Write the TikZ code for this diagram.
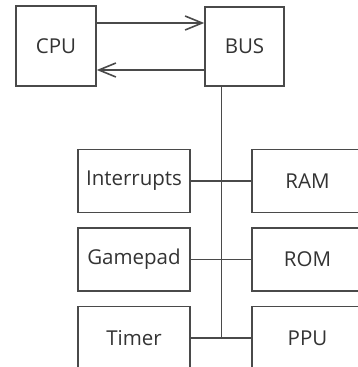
\documentclass[tikz,border=0pt]{standalone}
\usepackage{fontspec}
\setmainfont{Open Sans}
\usepackage{tikz}
\usepackage{xcolor}
\usetikzlibrary{arrows.meta}
\definecolor{linegray}{HTML}{4A4A4A}
\definecolor{textgray}{HTML}{333333}

\begin{document}
\begin{tikzpicture}[x=1pt,y=-1pt,font=\fontsize{20.5}{24}\selectfont,
  blok/.style={draw=linegray,line width=1.6pt,text=textgray,inner sep=0pt},
  wire/.style={draw=linegray,line width=1.6pt},
  arr/.style={wire,-{Straight Barb[length=17pt,width=14pt,line width=1.6pt]}}]
  \useasboundingbox (0,0) rectangle (357,367);
  \node[blok,minimum width=80pt,minimum height=80pt] (cpu) at (56,46) {CPU};
  \node[blok,minimum width=79pt,minimum height=79pt] (bus) at (244.5,46.5) {BUS};
  \draw[arr] (cpu.east |- 0,23) -- (bus.west |- 0,23);
  \draw[arr] (bus.west |- 0,70) -- (cpu.east |- 0,70);
  \foreach \l/\r/\y in {Interrupts/RAM/181,Gamepad/ROM/259.5,Timer/PPU/338}{
    \node[blok,minimum width=112pt,minimum height=63pt] (\l) at (134,\y) {\l};
    \node[blok,minimum width=111.5pt,minimum height=63pt] (\r) at (307.5,\y) {\r};
    \draw[wire] (\l.east) -- (\r.west);
  }
  \coordinate (trunk) at (221.5,338);
  \draw[wire] (bus.south -| trunk) -- (trunk);
\end{tikzpicture}
\end{document}
